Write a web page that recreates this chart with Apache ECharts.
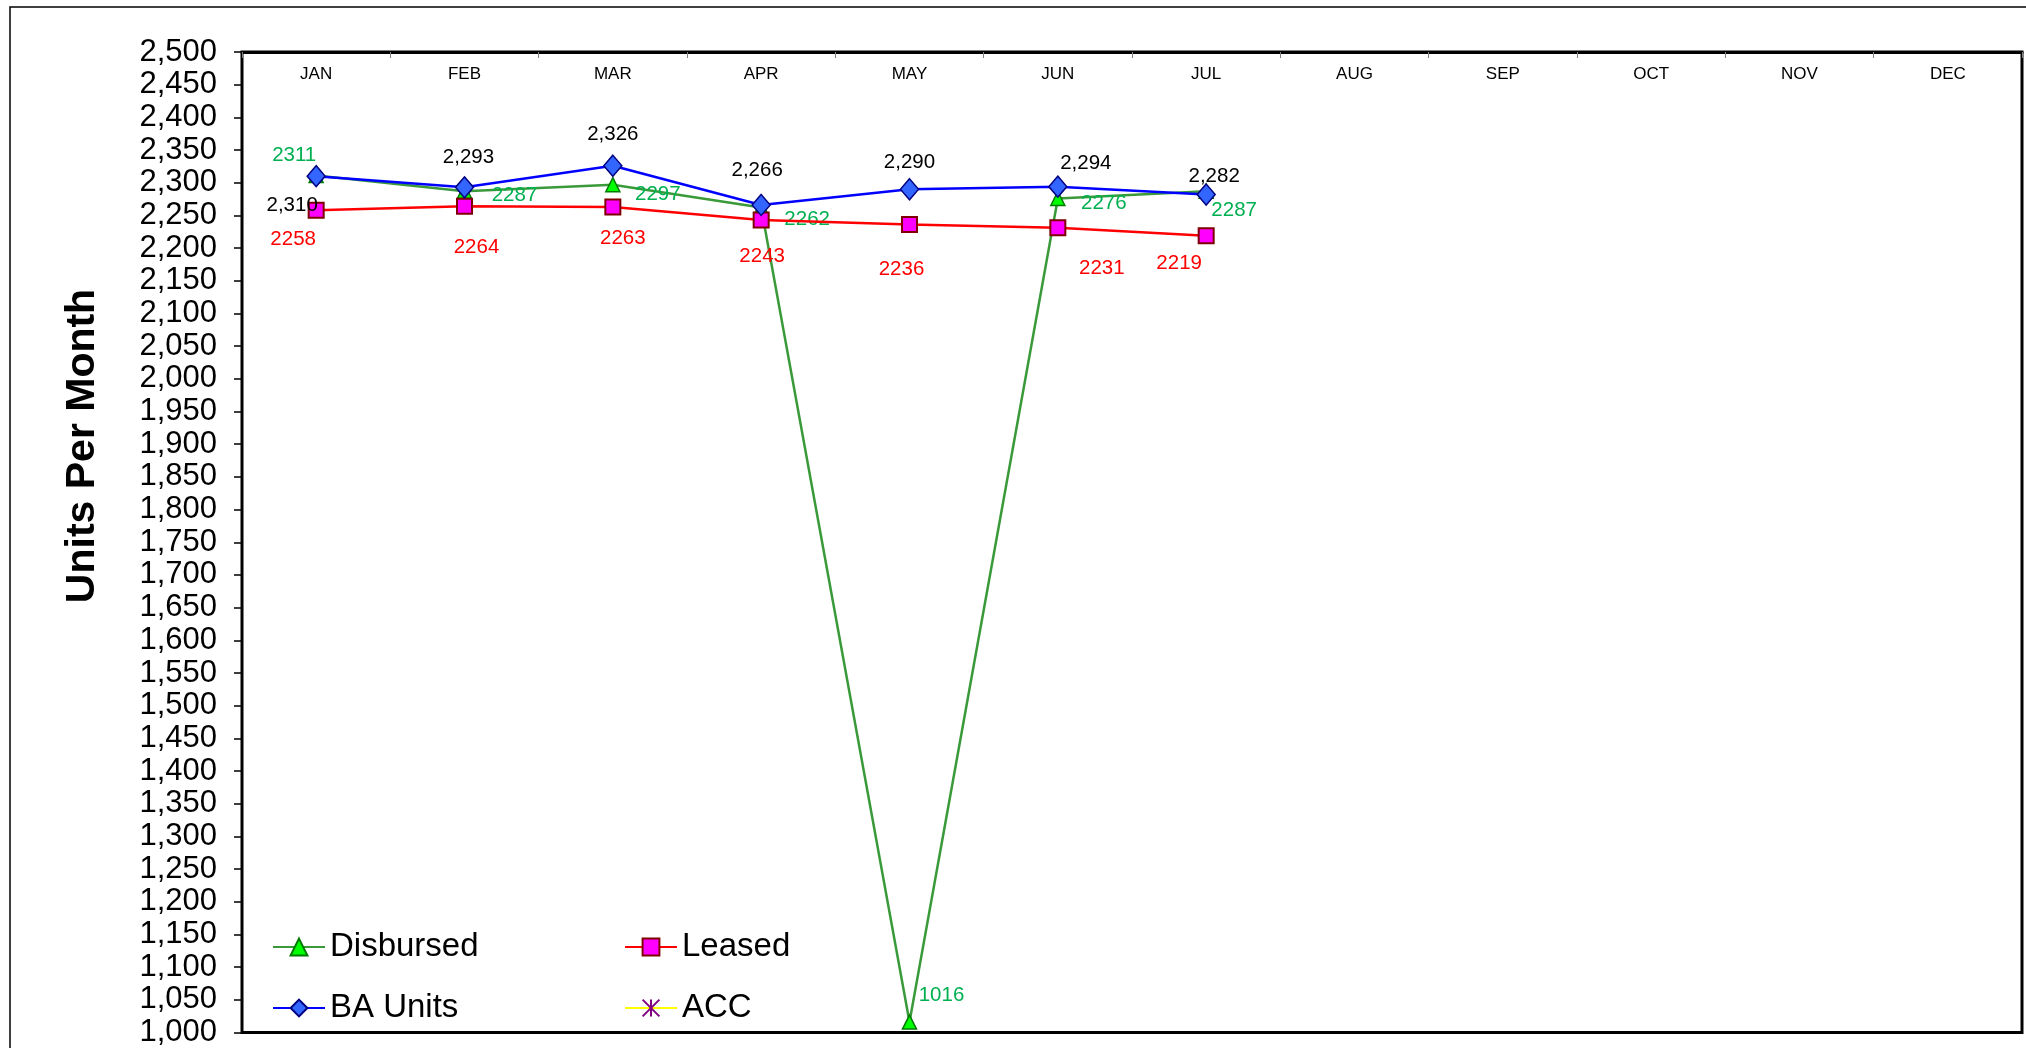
<!DOCTYPE html>
<html>
<head>
<meta charset="utf-8">
<script src="https://cdn.jsdelivr.net/npm/echarts@6/dist/echarts.min.js"></script>
<style>
  html, body { margin: 0; padding: 0; background: #ffffff; }
  #chart { width: 2026px; height: 1048px; }
</style>
</head>
<body>
<div id="chart"></div>
<script>
// Monthly unit counts
const months = ['JAN', 'FEB', 'MAR', 'APR', 'MAY', 'JUN', 'JUL', 'AUG', 'SEP', 'OCT', 'NOV', 'DEC'];
const disbursed = [2311, 2287, 2297, 2262, 1016, 2276, 2287];
const leased = [2258, 2264, 2263, 2243, 2236, 2231, 2219];
const baUnits = [2310, 2293, 2326, 2266, 2290, 2294, 2282];
const acc = [];

// Value axis range and step
const yMin = 1000;
const yMax = 2500;
const yStep = 50;

// Label placement (label centre relative to its point, in px)
const disbursedLabelShift = [[-22, -20], [50, 4], [45, 10], [46, 12], [32, -27], [46, 5], [28, 19]];
const leasedLabelShift = [[-23, 29], [12, 41], [10, 31], [1, 36], [-8, 45], [44, 41], [-27, 28]];
const baLabelShift = [[-24, 29], [4, -30], [0, -31], [-4, -35], [0, -27], [28, -23], [8, -18]];

const FONT = '"Liberation Sans", Arial, sans-serif';
const fmtComma = v => Number(v).toLocaleString('en-US');

function withLabels(values, shifts) {
  return values.map((v, i) => ({
    value: v,
    label: { offset: shifts[i] }
  }));
}

function labelStyle(color, formatter) {
  return {
    show: true,
    position: 'inside',
    align: 'center',
    verticalAlign: 'middle',
    color: color,
    fontFamily: FONT,
    fontSize: 20.5,
    formatter: formatter
  };
}

const chart = echarts.init(document.getElementById('chart'), null, { renderer: 'canvas' });

const option = {
  animation: false,
  backgroundColor: '#ffffff',
  textStyle: { fontFamily: FONT },
  grid: {
    left: 242, top: 52, right: 4, bottom: 13,
    show: true,
    borderColor: '#000000',
    borderWidth: 3,
    backgroundColor: 'transparent'
  },
  graphic: [
    {
      type: 'rect',
      silent: true,
      shape: { x: 10, y: 7, width: 2040, height: 1060 },
      style: { fill: 'none', stroke: '#000000', lineWidth: 1.5 }
    },
    {
      type: 'text',
      silent: true,
      x: 83,
      y: 446,
      rotation: Math.PI / 2,
      style: {
        text: 'Units Per Month',
        font: 'bold 41px ' + FONT,
        fill: '#000000',
        align: 'center',
        verticalAlign: 'middle'
      }
    }
  ],
  legend: [
    {
      data: ['Disbursed', 'BA Units'],
      orient: 'vertical',
      left: 267,
      top: 924,
      itemWidth: 52,
      itemHeight: 21,
      itemGap: 25,
      textStyle: { fontFamily: FONT, fontSize: 33, color: '#000000', lineHeight: 36 }
    },
    {
      data: ['Leased', 'ACC'],
      orient: 'vertical',
      left: 619,
      top: 924,
      itemWidth: 52,
      itemHeight: 21,
      itemGap: 25,
      textStyle: { fontFamily: FONT, fontSize: 33, color: '#000000', lineHeight: 36 }
    }
  ],
  xAxis: {
    type: 'category',
    position: 'top',
    data: months,
    boundaryGap: true,
    axisLine: { show: true, lineStyle: { color: '#000000', width: 3 } },
    axisTick: { show: true, inside: true, length: 6, lineStyle: { color: '#808080', width: 1 } },
    axisLabel: {
      inside: true,
      margin: 22,
      verticalAlign: 'middle',
      color: '#000000',
      fontFamily: FONT,
      fontSize: 17
    },
    splitLine: { show: false }
  },
  yAxis: {
    type: 'value',
    min: yMin,
    max: yMax,
    interval: yStep,
    axisLine: { show: true, lineStyle: { color: '#000000', width: 2 } },
    axisTick: { show: true, inside: false, length: 8, lineStyle: { color: '#000000', width: 1.5 } },
    axisLabel: {
      margin: 25,
      color: '#000000',
      fontFamily: FONT,
      fontSize: 31,
      formatter: fmtComma
    },
    splitLine: { show: false }
  },
  series: [
    {
      name: 'Disbursed',
      type: 'line',
      data: withLabels(disbursed, disbursedLabelShift),
      symbol: 'triangle',
      symbolSize: 14,
      clip: false,
      lineStyle: { color: '#3a9a3a', width: 2.5 },
      itemStyle: { color: '#00ff00', borderColor: '#007a00', borderWidth: 1.5 },
      label: labelStyle('#00b050', p => String(p.value)),
      emphasis: { disabled: true },
      z: 2
    },
    {
      name: 'Leased',
      type: 'line',
      data: withLabels(leased, leasedLabelShift),
      symbol: 'rect',
      symbolSize: 15,
      clip: false,
      lineStyle: { color: '#ff0000', width: 2.5 },
      itemStyle: { color: '#ff00ff', borderColor: '#800000', borderWidth: 2 },
      label: labelStyle('#ff0000', p => String(p.value)),
      emphasis: { disabled: true },
      z: 3
    },
    {
      name: 'BA Units',
      type: 'line',
      data: withLabels(baUnits, baLabelShift),
      symbol: 'diamond',
      symbolSize: [18, 21],
      clip: false,
      lineStyle: { color: '#0000ff', width: 2.5 },
      itemStyle: { color: '#3366ff', borderColor: '#000080', borderWidth: 1.5 },
      label: labelStyle('#000000', p => fmtComma(p.value)),
      emphasis: { disabled: true },
      z: 4
    },
    {
      name: 'ACC',
      type: 'line',
      data: acc,
      symbol: 'path://M0,0L10,10M10,0L0,10M5,0L5,10',
      symbolSize: 14,
      lineStyle: { color: '#ffff00', width: 2.5 },
      itemStyle: { color: '#ffff00', borderColor: '#800080', borderWidth: 2.5 },
      emphasis: { disabled: true },
      z: 5
    }
  ]
};

chart.setOption(option);
</script>
</body>
</html>
